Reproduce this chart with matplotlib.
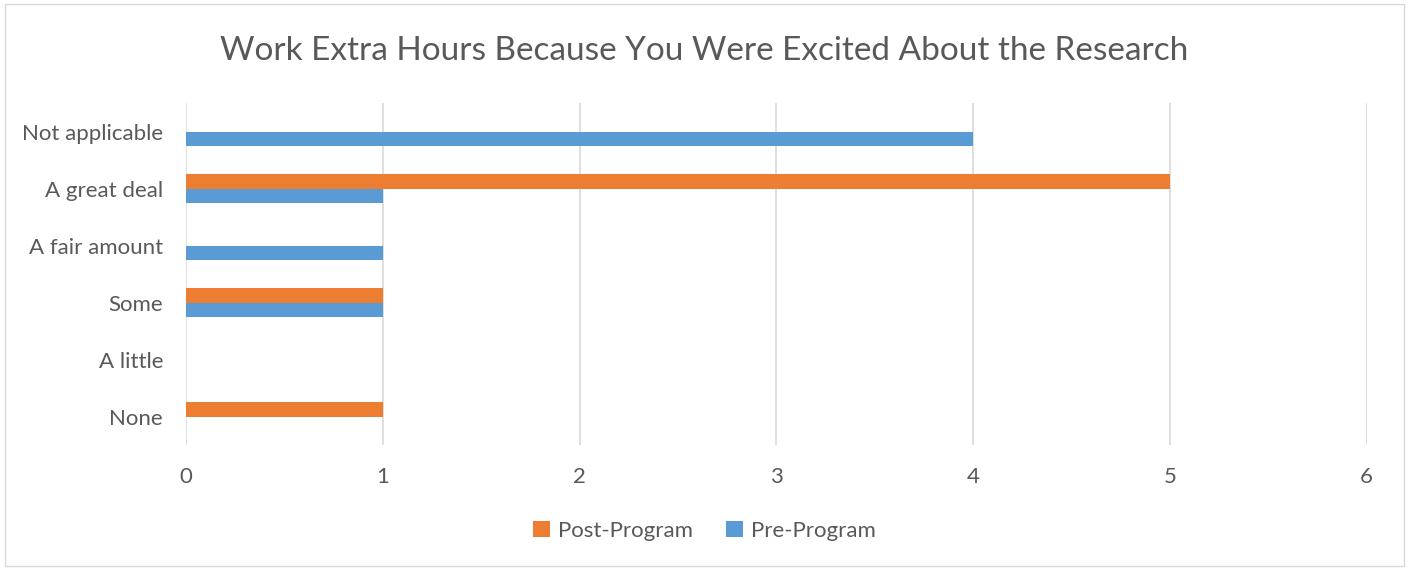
import matplotlib
matplotlib.use("Agg")
import matplotlib.pyplot as plt
from matplotlib.patches import Rectangle
import numpy as np

categories = ["None", "A little", "Some", "A fair amount", "A great deal", "Not applicable"]
post_program = [1, 0, 1, 0, 5, 0]
pre_program = [0, 0, 1, 1, 1, 4]
x_ticks = [0, 1, 2, 3, 4, 5, 6]

title = "Work Extra Hours Because You Were Excited About the Research"
orange = "#ED7D31"
blue = "#5B9BD5"
text_color = "#595959"
grid_color = "#D9D9D9"

plt.rcParams["font.family"] = ["Lato", "DejaVu Sans"]

fig = plt.figure(figsize=(14.09, 5.68), dpi=100)
ax = fig.add_axes([0.132, 0.2165, 0.838, 0.602])

y = np.arange(len(categories))
h = 0.26
ax.barh(y + h / 2, post_program, height=h, color=orange, label="Post-Program", zorder=3)
ax.barh(y - h / 2, pre_program, height=h, color=blue, label="Pre-Program", zorder=3)

ax.set_xlim(0, 6)
ax.set_ylim(-0.5, len(categories) - 0.5)
ax.set_xticks(x_ticks)
ax.set_yticks(y)
ax.set_yticklabels(categories)
ax.tick_params(axis="both", length=0, labelsize=16, labelcolor=text_color)
ax.tick_params(axis="x", pad=16)
ax.tick_params(axis="y", pad=16.5)
for s in ax.spines.values():
    s.set_visible(False)
ax.grid(axis="x", color=grid_color, linewidth=1.2, zorder=0)
ax.set_axisbelow(True)

fig.text(0.5, 0.91, title, ha="center", va="center", fontsize=24, color=text_color)

handles, labels = ax.get_legend_handles_labels()
fig.legend(handles, labels, loc="center", bbox_to_anchor=(0.5, 0.065), ncol=2, frameon=False,
           fontsize=16, labelcolor=text_color, handlelength=0.75, handleheight=0.75,
           handletextpad=0.35, columnspacing=1.5)

fig.patches.append(Rectangle((0.0035, 0.0035), 0.993, 0.989, transform=fig.transFigure,
                             fill=False, edgecolor="#D9D9D9", linewidth=1.0))

fig.savefig("out.png", dpi=100, facecolor="white")
